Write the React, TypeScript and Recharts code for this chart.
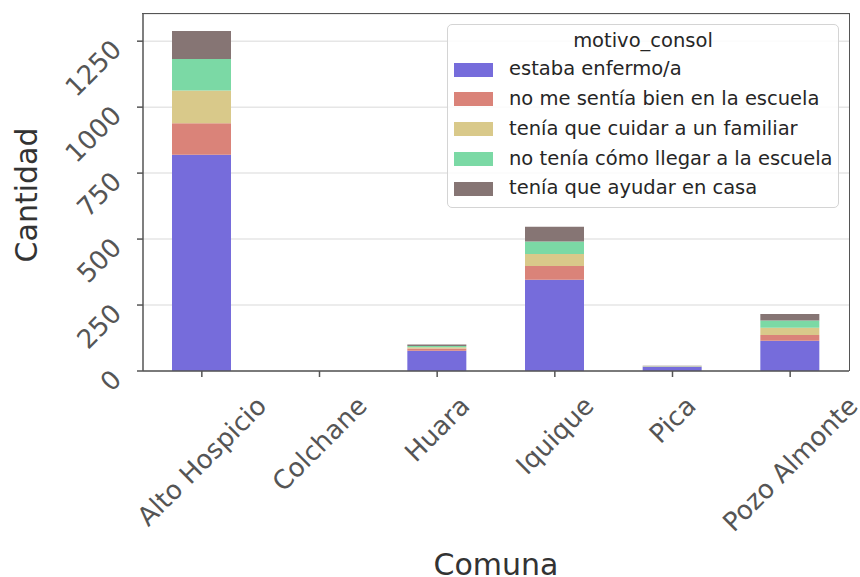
import React from 'react';
import { BarChart, Bar, XAxis, YAxis, CartesianGrid, Legend } from 'recharts';

const categories = ['Alto Hospicio', 'Colchane', 'Huara', 'Iquique', 'Pica', 'Pozo Almonte'];
const estabaEnfermo = [820, 0, 77, 346, 16, 115];
const noMeSentiaBien = [119, 0, 8, 52, 1, 21];
const teniaQueCuidar = [124, 0, 5, 45, 1, 28];
const noTeniaComoLlegar = [119, 0, 5, 48, 1, 27];
const teniaQueAyudar = [107, 0, 5, 56, 1, 25];
const yTicks = [0, 250, 500, 750, 1000, 1250];

const seriesNames = [
  'estaba enfermo/a',
  'no me sentía bien en la escuela',
  'tenía que cuidar a un familiar',
  'no tenía cómo llegar a la escuela',
  'tenía que ayudar en casa',
];
const seriesColors = ['#766cdb', '#da8379', '#d9c98a', '#7bd9a5', '#867574'];
const seriesKeys = ['s0', 's1', 's2', 's3', 's4'];
const seriesValues = [estabaEnfermo, noMeSentiaBien, teniaQueCuidar, noTeniaComoLlegar, teniaQueAyudar];

const data = categories.map((name, i) => {
  const row: any = { name };
  seriesKeys.forEach((k, j) => (row[k] = seriesValues[j][i]));
  return row;
});

const FONT = "'DejaVu Sans', sans-serif";
const TICK_FS = 26;
let ctx: any = null;
const measure = (t: string, fs: number) => {
  if (!ctx) ctx = document.createElement('canvas').getContext('2d');
  ctx.font = `${fs}px "DejaVu Sans"`;
  return ctx.measureText(t).width;
};

const XTick = (props: any) => {
  const { x, y, payload } = props;
  const label = String(payload.value);
  const L = measure(label, TICK_FS);
  const bbox = (L + 1.0 * TICK_FS) * 0.7071;
  const cy = y + 13 + bbox / 2;
  return (
    <text
      x={x}
      y={cy}
      textAnchor="middle"
      dominantBaseline="central"
      transform={`rotate(-45, ${x}, ${cy})`}
      fontFamily={FONT}
      fontSize={TICK_FS}
      fill="#555555"
    >
      {label}
    </text>
  );
};

const YTick = (props: any) => {
  const { x, y, payload } = props;
  const ax = x - 12;
  const ay = y + 10;
  return (
    <text
      x={ax}
      y={ay}
      textAnchor="end"
      transform={`rotate(-45, ${ax}, ${ay})`}
      fontFamily={FONT}
      fontSize={TICK_FS}
      fill="#555555"
    >
      {payload.value}
    </text>
  );
};

const LegendBox = () => (
  <div
    style={{
      position: 'relative',
      width: 392,
      height: 184,
      boxSizing: 'border-box',
      border: '1.5px solid #d4d4d4',
      borderRadius: 5,
      background: 'rgba(255,255,255,0.85)',
      fontFamily: FONT,
      fontSize: 19.5,
      color: '#262626',
    }}
  >
    <div style={{ position: 'absolute', left: 0, right: 0, top: 4.5, lineHeight: '22px', textAlign: 'center' }}>
      motivo_consol
    </div>
    {seriesNames.map((n, i) => {
      const cy = 44.5 + i * 29.85;
      return (
        <React.Fragment key={i}>
          <div style={{ position: 'absolute', left: 6, top: cy - 7, width: 39, height: 14, background: seriesColors[i] }} />
          <div style={{ position: 'absolute', left: 61, top: cy - 11.5, lineHeight: '22px', whiteSpace: 'nowrap' }}>
            {n}
          </div>
        </React.Fragment>
      );
    })}
  </div>
);

export default function App() {
  return (
    <div style={{ position: 'fixed', left: 0, top: 0, width: 860, height: 577, background: '#fff' }}>
      <BarChart width={860} height={577} data={data} margin={{ top: 14, right: 11, bottom: 0, left: 0 }}>
        <CartesianGrid vertical={false} stroke="#e6e6e6" strokeWidth={1.5} />
        <XAxis
          dataKey="name"
          height={206}
          interval={0}
          tick={<XTick />}
          tickSize={6}
          axisLine={{ stroke: '#555555', strokeWidth: 1.5 }}
          tickLine={{ stroke: '#555555', strokeWidth: 1.5 }}
          label={(p: any) => {
            const vb = p.viewBox || { x: 143, width: 706 };
            return (
              <text x={vb.x + vb.width / 2} y={575} textAnchor="middle" fontFamily={FONT} fontSize={30} fill="#333333">
                Comuna
              </text>
            );
          }}
        />
        <YAxis
          width={143}
          domain={[0, 1353]}
          ticks={yTicks}
          allowDataOverflow
          tick={<YTick />}
          tickSize={6}
          axisLine={{ stroke: '#555555', strokeWidth: 1.5 }}
          tickLine={{ stroke: '#555555', strokeWidth: 1.5 }}
          label={() => (
            <text x={26} y={195} textAnchor="middle" dominantBaseline="central" transform="rotate(-90, 26, 195)" fontFamily={FONT} fontSize={30} fill="#333333">
              Cantidad
            </text>
          )}
        />
        <Legend
          layout="vertical"
          align="center"
          verticalAlign="middle"
          content={<LegendBox />}
          wrapperStyle={{ position: 'absolute', left: 447, top: 24, width: 392, height: 184 }}
        />
        {seriesKeys.map((k, j) => (
          <Bar
            key={k}
            dataKey={k}
            name={seriesNames[j]}
            stackId="a"
            fill={seriesColors[j]}
            barSize={59}
            isAnimationActive={false}
          />
        ))}
      </BarChart>
      <div
        style={{
          position: 'absolute',
          left: 142.25,
          top: 13.25,
          width: 706.75,
          height: 357,
          borderTop: '1.5px solid #555555',
          borderRight: '1.5px solid #555555',
          pointerEvents: 'none',
        }}
      />
    </div>
  );
}
